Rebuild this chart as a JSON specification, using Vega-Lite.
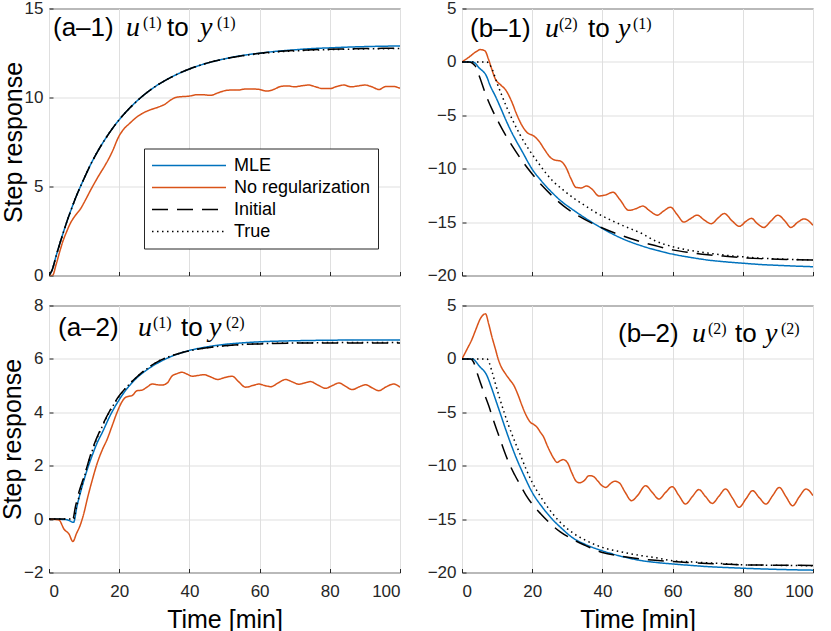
{
  "$schema": "https://vega.github.io/schema/vega-lite/v6.json",
  "padding": {"left": 0, "top": -1.5, "right": 3, "bottom": 0},
  "background": "white",
  "bounds": "flush",
  "columns": 2,
  "spacing": {"row": 30, "column": 62},
  "config": {
    "font": "Liberation Sans",
    "view": {"stroke": "#262626", "strokeWidth": 1},
    "axis": {
      "domain": false,
      "grid": true,
      "gridColor": "#dfdfdf",
      "ticks": true,
      "tickSize": -4,
      "tickColor": "#262626",
      "labelFont": "Liberation Sans",
      "labelFontSize": 17,
      "labelColor": "#262626",
      "titleFont": "Liberation Sans",
      "titleFontSize": 25,
      "titleFontWeight": "normal",
      "titleColor": "#000000"
    },
    "axisX": {"labelPadding": 15, "titlePadding": 7.5},
    "axisY": {"labelPadding": 10, "titlePadding": -2},
    "text": {"align": "left", "baseline": "alphabetic", "color": "#000000"}
  },
  "resolve": {
    "scale": {"color": "independent", "strokeDash": "independent", "x": "independent", "y": "independent"},
    "legend": {"color": "independent", "strokeDash": "independent"}
  },
  "datasets": {
    "a1": [
      {"s":"MLE","t":0,"v":0},{"s":"MLE","t":1,"v":0.37},{"s":"MLE","t":2,"v":1.08},{"s":"MLE","t":3,"v":1.74},{"s":"MLE","t":4,"v":2.37},{"s":"MLE","t":5,"v":2.97},{"s":"MLE","t":6,"v":3.53},{"s":"MLE","t":8,"v":4.56},{"s":"MLE","t":10,"v":5.45},{"s":"MLE","t":12,"v":6.29},{"s":"MLE","t":14,"v":7.02},{"s":"MLE","t":16,"v":7.66},{"s":"MLE","t":18,"v":8.24},{"s":"MLE","t":20,"v":8.75},{"s":"MLE","t":23,"v":9.41},{"s":"MLE","t":26,"v":9.97},{"s":"MLE","t":30,"v":10.58},{"s":"MLE","t":35,"v":11.16},{"s":"MLE","t":40,"v":11.6},{"s":"MLE","t":45,"v":11.93},{"s":"MLE","t":50,"v":12.17},{"s":"MLE","t":55,"v":12.36},{"s":"MLE","t":60,"v":12.49},{"s":"MLE","t":65,"v":12.6},{"s":"MLE","t":70,"v":12.68},{"s":"MLE","t":75,"v":12.75},{"s":"MLE","t":80,"v":12.79},{"s":"MLE","t":85,"v":12.83},{"s":"MLE","t":90,"v":12.86},{"s":"MLE","t":95,"v":12.88},{"s":"MLE","t":100,"v":12.9},
      {"s":"No regularization","t":0,"v":0},{"s":"No regularization","t":1,"v":0},{"s":"No regularization","t":2,"v":0.6},{"s":"No regularization","t":3,"v":1.3},{"s":"No regularization","t":4,"v":1.95},{"s":"No regularization","t":5,"v":2.45},{"s":"No regularization","t":6,"v":2.9},{"s":"No regularization","t":8,"v":3.5},{"s":"No regularization","t":9,"v":3.75},{"s":"No regularization","t":10,"v":4.1},{"s":"No regularization","t":12,"v":4.85},{"s":"No regularization","t":14,"v":5.55},{"s":"No regularization","t":16,"v":6.2},{"s":"No regularization","t":17,"v":6.55},{"s":"No regularization","t":18,"v":6.95},{"s":"No regularization","t":20,"v":7.85},{"s":"No regularization","t":21,"v":8.15},{"s":"No regularization","t":23,"v":8.55},{"s":"No regularization","t":25,"v":8.9},{"s":"No regularization","t":27,"v":9.15},{"s":"No regularization","t":29,"v":9.32},{"s":"No regularization","t":31,"v":9.45},{"s":"No regularization","t":33,"v":9.62},{"s":"No regularization","t":35,"v":9.9},{"s":"No regularization","t":36,"v":10.0},{"s":"No regularization","t":38,"v":10.05},{"s":"No regularization","t":40,"v":10.08},{"s":"No regularization","t":42,"v":10.15},{"s":"No regularization","t":44,"v":10.15},{"s":"No regularization","t":46,"v":10.12},{"s":"No regularization","t":48,"v":10.25},{"s":"No regularization","t":50,"v":10.38},{"s":"No regularization","t":52,"v":10.42},{"s":"No regularization","t":54,"v":10.42},{"s":"No regularization","t":56,"v":10.48},{"s":"No regularization","t":58,"v":10.48},{"s":"No regularization","t":60,"v":10.45},{"s":"No regularization","t":62,"v":10.36},{"s":"No regularization","t":64,"v":10.45},{"s":"No regularization","t":66,"v":10.62},{"s":"No regularization","t":68,"v":10.65},{"s":"No regularization","t":70,"v":10.6},{"s":"No regularization","t":72,"v":10.66},{"s":"No regularization","t":74,"v":10.7},{"s":"No regularization","t":76,"v":10.6},{"s":"No regularization","t":78,"v":10.5},{"s":"No regularization","t":80,"v":10.5},{"s":"No regularization","t":82,"v":10.62},{"s":"No regularization","t":84,"v":10.7},{"s":"No regularization","t":86,"v":10.6},{"s":"No regularization","t":88,"v":10.65},{"s":"No regularization","t":90,"v":10.7},{"s":"No regularization","t":92,"v":10.6},{"s":"No regularization","t":94,"v":10.45},{"s":"No regularization","t":96,"v":10.62},{"s":"No regularization","t":98,"v":10.62},{"s":"No regularization","t":100,"v":10.52},
      {"s":"Initial","t":0,"v":0},{"s":"Initial","t":1,"v":0.37},{"s":"Initial","t":2,"v":1.08},{"s":"Initial","t":3,"v":1.74},{"s":"Initial","t":4,"v":2.37},{"s":"Initial","t":5,"v":2.97},{"s":"Initial","t":6,"v":3.53},{"s":"Initial","t":8,"v":4.56},{"s":"Initial","t":10,"v":5.45},{"s":"Initial","t":12,"v":6.29},{"s":"Initial","t":14,"v":7.02},{"s":"Initial","t":16,"v":7.66},{"s":"Initial","t":18,"v":8.24},{"s":"Initial","t":20,"v":8.75},{"s":"Initial","t":23,"v":9.41},{"s":"Initial","t":26,"v":9.97},{"s":"Initial","t":30,"v":10.58},{"s":"Initial","t":35,"v":11.16},{"s":"Initial","t":40,"v":11.6},{"s":"Initial","t":45,"v":11.93},{"s":"Initial","t":50,"v":12.17},{"s":"Initial","t":55,"v":12.35},{"s":"Initial","t":60,"v":12.48},{"s":"Initial","t":65,"v":12.58},{"s":"Initial","t":70,"v":12.64},{"s":"Initial","t":75,"v":12.68},{"s":"Initial","t":80,"v":12.71},{"s":"Initial","t":85,"v":12.73},{"s":"Initial","t":90,"v":12.75},{"s":"Initial","t":95,"v":12.76},{"s":"Initial","t":100,"v":12.77},
      {"s":"True","t":0,"v":0},{"s":"True","t":1,"v":0.37},{"s":"True","t":2,"v":1.08},{"s":"True","t":3,"v":1.74},{"s":"True","t":4,"v":2.37},{"s":"True","t":5,"v":2.97},{"s":"True","t":6,"v":3.53},{"s":"True","t":8,"v":4.56},{"s":"True","t":10,"v":5.45},{"s":"True","t":12,"v":6.29},{"s":"True","t":14,"v":7.02},{"s":"True","t":16,"v":7.66},{"s":"True","t":18,"v":8.24},{"s":"True","t":20,"v":8.75},{"s":"True","t":23,"v":9.41},{"s":"True","t":26,"v":9.97},{"s":"True","t":30,"v":10.58},{"s":"True","t":35,"v":11.16},{"s":"True","t":40,"v":11.6},{"s":"True","t":45,"v":11.93},{"s":"True","t":50,"v":12.16},{"s":"True","t":55,"v":12.34},{"s":"True","t":60,"v":12.46},{"s":"True","t":65,"v":12.56},{"s":"True","t":70,"v":12.62},{"s":"True","t":75,"v":12.66},{"s":"True","t":80,"v":12.69},{"s":"True","t":85,"v":12.71},{"s":"True","t":90,"v":12.73},{"s":"True","t":95,"v":12.74},{"s":"True","t":100,"v":12.75}
    ],
    "b1": [
      {"s":"MLE","t":0,"v":0},{"s":"MLE","t":3,"v":0},{"s":"MLE","t":5,"v":-0.6},{"s":"MLE","t":7,"v":-1.35},{"s":"MLE","t":8,"v":-2.2},{"s":"MLE","t":9.5,"v":-3.2},{"s":"MLE","t":11,"v":-4.3},{"s":"MLE","t":12.4,"v":-5.37},{"s":"MLE","t":14,"v":-6.5},{"s":"MLE","t":15.2,"v":-7.25},{"s":"MLE","t":17,"v":-8.3},{"s":"MLE","t":20,"v":-10.05},{"s":"MLE","t":22.5,"v":-11.1},{"s":"MLE","t":25.7,"v":-12.25},{"s":"MLE","t":28.5,"v":-13.1},{"s":"MLE","t":31.4,"v":-13.8},{"s":"MLE","t":35,"v":-14.6},{"s":"MLE","t":40,"v":-15.6},{"s":"MLE","t":45,"v":-16.45},{"s":"MLE","t":51.4,"v":-17.25},{"s":"MLE","t":55,"v":-17.6},{"s":"MLE","t":60,"v":-18.0},{"s":"MLE","t":65,"v":-18.3},{"s":"MLE","t":70,"v":-18.55},{"s":"MLE","t":75,"v":-18.72},{"s":"MLE","t":80,"v":-18.85},{"s":"MLE","t":85,"v":-18.97},{"s":"MLE","t":90,"v":-19.05},{"s":"MLE","t":95,"v":-19.12},{"s":"MLE","t":100,"v":-19.18},
      {"s":"No regularization","t":0,"v":0},{"s":"No regularization","t":2,"v":0.45},{"s":"No regularization","t":4,"v":0.95},{"s":"No regularization","t":5.2,"v":1.15},{"s":"No regularization","t":6.5,"v":1.05},{"s":"No regularization","t":7.5,"v":0.3},{"s":"No regularization","t":8.2,"v":-0.4},{"s":"No regularization","t":9.5,"v":-1.6},{"s":"No regularization","t":11,"v":-2.15},{"s":"No regularization","t":12.5,"v":-2.65},{"s":"No regularization","t":14,"v":-3.6},{"s":"No regularization","t":15.7,"v":-5.0},{"s":"No regularization","t":17,"v":-5.9},{"s":"No regularization","t":18.5,"v":-6.6},{"s":"No regularization","t":20.5,"v":-6.95},{"s":"No regularization","t":22,"v":-7.45},{"s":"No regularization","t":23.5,"v":-8.2},{"s":"No regularization","t":25.2,"v":-8.95},{"s":"No regularization","t":26.5,"v":-9.2},{"s":"No regularization","t":28,"v":-9.28},{"s":"No regularization","t":29.5,"v":-9.8},{"s":"No regularization","t":31,"v":-10.9},{"s":"No regularization","t":32.5,"v":-11.75},{"s":"No regularization","t":34,"v":-11.8},{"s":"No regularization","t":35.5,"v":-11.62},{"s":"No regularization","t":37,"v":-11.9},{"s":"No regularization","t":39,"v":-12.55},{"s":"No regularization","t":41,"v":-12.45},{"s":"No regularization","t":43,"v":-12.2},{"s":"No regularization","t":45,"v":-12.9},{"s":"No regularization","t":47.5,"v":-13.9},{"s":"No regularization","t":49.5,"v":-13.75},{"s":"No regularization","t":51.5,"v":-13.5},{"s":"No regularization","t":53.5,"v":-13.95},{"s":"No regularization","t":55.6,"v":-14.35},{"s":"No regularization","t":57.5,"v":-13.95},{"s":"No regularization","t":59.4,"v":-13.6},{"s":"No regularization","t":61.3,"v":-14.3},{"s":"No regularization","t":63.2,"v":-15.0},{"s":"No regularization","t":65,"v":-14.7},{"s":"No regularization","t":67,"v":-14.35},{"s":"No regularization","t":69,"v":-14.8},{"s":"No regularization","t":71,"v":-15.15},{"s":"No regularization","t":73,"v":-14.6},{"s":"No regularization","t":74.7,"v":-14.2},{"s":"No regularization","t":77,"v":-14.9},{"s":"No regularization","t":79,"v":-15.4},{"s":"No regularization","t":81,"v":-14.9},{"s":"No regularization","t":82.5,"v":-14.65},{"s":"No regularization","t":84,"v":-15.1},{"s":"No regularization","t":86,"v":-15.5},{"s":"No regularization","t":88,"v":-14.9},{"s":"No regularization","t":90,"v":-14.35},{"s":"No regularization","t":92,"v":-14.9},{"s":"No regularization","t":93.7,"v":-15.5},{"s":"No regularization","t":95.7,"v":-15.0},{"s":"No regularization","t":97.5,"v":-14.7},{"s":"No regularization","t":100,"v":-15.3},
      {"s":"Initial","t":0,"v":0},{"s":"Initial","t":2,"v":0},{"s":"Initial","t":3.8,"v":-0.4},{"s":"Initial","t":5,"v":-1.4},{"s":"Initial","t":6.7,"v":-3.0},{"s":"Initial","t":8.5,"v":-4.4},{"s":"Initial","t":10.5,"v":-5.7},{"s":"Initial","t":12.5,"v":-6.9},{"s":"Initial","t":14.3,"v":-7.87},{"s":"Initial","t":17,"v":-9.2},{"s":"Initial","t":20,"v":-10.5},{"s":"Initial","t":23,"v":-11.65},{"s":"Initial","t":25.7,"v":-12.55},{"s":"Initial","t":29,"v":-13.5},{"s":"Initial","t":33.3,"v":-14.45},{"s":"Initial","t":37,"v":-15.1},{"s":"Initial","t":40,"v":-15.55},{"s":"Initial","t":45,"v":-16.2},{"s":"Initial","t":50,"v":-16.75},{"s":"Initial","t":55,"v":-17.2},{"s":"Initial","t":60,"v":-17.6},{"s":"Initial","t":65,"v":-17.85},{"s":"Initial","t":70,"v":-18.05},{"s":"Initial","t":75,"v":-18.2},{"s":"Initial","t":80,"v":-18.33},{"s":"Initial","t":85,"v":-18.42},{"s":"Initial","t":90,"v":-18.48},{"s":"Initial","t":95,"v":-18.52},{"s":"Initial","t":100,"v":-18.55},
      {"s":"True","t":0,"v":0},{"s":"True","t":7,"v":0},{"s":"True","t":8.6,"v":-0.69},{"s":"True","t":10,"v":-2.0},{"s":"True","t":11.4,"v":-3.18},{"s":"True","t":12.8,"v":-4.3},{"s":"True","t":14.3,"v":-5.37},{"s":"True","t":16.5,"v":-6.8},{"s":"True","t":19,"v":-8.18},{"s":"True","t":21.5,"v":-9.35},{"s":"True","t":23.8,"v":-10.37},{"s":"True","t":26,"v":-11.2},{"s":"True","t":28.6,"v":-11.93},{"s":"True","t":32,"v":-12.8},{"s":"True","t":35,"v":-13.45},{"s":"True","t":38.1,"v":-14.1},{"s":"True","t":42,"v":-14.75},{"s":"True","t":46,"v":-15.35},{"s":"True","t":51.4,"v":-16.1},{"s":"True","t":55,"v":-16.75},{"s":"True","t":60,"v":-17.3},{"s":"True","t":65,"v":-17.65},{"s":"True","t":70,"v":-17.9},{"s":"True","t":75,"v":-18.1},{"s":"True","t":80,"v":-18.25},{"s":"True","t":85,"v":-18.37},{"s":"True","t":90,"v":-18.45},{"s":"True","t":95,"v":-18.5},{"s":"True","t":100,"v":-18.55}
    ],
    "a2": [
      {"s":"MLE","t":0,"v":0},{"s":"MLE","t":5,"v":-0.02},{"s":"MLE","t":7,"v":-0.12},{"s":"MLE","t":8,"v":0.5},{"s":"MLE","t":9.5,"v":1.25},{"s":"MLE","t":11,"v":1.9},{"s":"MLE","t":12.3,"v":2.38},{"s":"MLE","t":13.7,"v":2.85},{"s":"MLE","t":15.2,"v":3.25},{"s":"MLE","t":17.5,"v":3.9},{"s":"MLE","t":19.9,"v":4.45},{"s":"MLE","t":22,"v":4.85},{"s":"MLE","t":24.7,"v":5.25},{"s":"MLE","t":28,"v":5.6},{"s":"MLE","t":31.3,"v":5.87},{"s":"MLE","t":35,"v":6.1},{"s":"MLE","t":39.8,"v":6.31},{"s":"MLE","t":45,"v":6.45},{"s":"MLE","t":51.2,"v":6.56},{"s":"MLE","t":55,"v":6.6},{"s":"MLE","t":60,"v":6.64},{"s":"MLE","t":70,"v":6.68},{"s":"MLE","t":80,"v":6.7},{"s":"MLE","t":90,"v":6.71},{"s":"MLE","t":100,"v":6.71},
      {"s":"No regularization","t":0,"v":0},{"s":"No regularization","t":2.8,"v":-0.03},{"s":"No regularization","t":4.3,"v":-0.38},{"s":"No regularization","t":5.7,"v":-0.56},{"s":"No regularization","t":6.8,"v":-0.84},{"s":"No regularization","t":7.8,"v":-0.55},{"s":"No regularization","t":9,"v":-0.19},{"s":"No regularization","t":10,"v":0.25},{"s":"No regularization","t":10.9,"v":0.75},{"s":"No regularization","t":12.3,"v":1.45},{"s":"No regularization","t":13.8,"v":2.12},{"s":"No regularization","t":15.2,"v":2.6},{"s":"No regularization","t":16.6,"v":3.0},{"s":"No regularization","t":18,"v":3.5},{"s":"No regularization","t":19.4,"v":4.0},{"s":"No regularization","t":20.6,"v":4.35},{"s":"No regularization","t":21.8,"v":4.56},{"s":"No regularization","t":22.8,"v":4.6},{"s":"No regularization","t":23.7,"v":4.63},{"s":"No regularization","t":25.1,"v":4.81},{"s":"No regularization","t":26.5,"v":4.83},{"s":"No regularization","t":28,"v":4.95},{"s":"No regularization","t":29.4,"v":5.06},{"s":"No regularization","t":31,"v":5.03},{"s":"No regularization","t":32.2,"v":5.02},{"s":"No regularization","t":33.7,"v":5.1},{"s":"No regularization","t":35,"v":5.35},{"s":"No regularization","t":36.5,"v":5.45},{"s":"No regularization","t":37.9,"v":5.5},{"s":"No regularization","t":39.5,"v":5.42},{"s":"No regularization","t":40.8,"v":5.35},{"s":"No regularization","t":42.5,"v":5.38},{"s":"No regularization","t":44.1,"v":5.41},{"s":"No regularization","t":46,"v":5.33},{"s":"No regularization","t":48,"v":5.23},{"s":"No regularization","t":50,"v":5.3},{"s":"No regularization","t":52.2,"v":5.35},{"s":"No regularization","t":54,"v":5.15},{"s":"No regularization","t":56,"v":4.94},{"s":"No regularization","t":58,"v":5.0},{"s":"No regularization","t":59.8,"v":5.06},{"s":"No regularization","t":61.5,"v":5.0},{"s":"No regularization","t":63.2,"v":4.96},{"s":"No regularization","t":65.3,"v":5.1},{"s":"No regularization","t":67.4,"v":5.23},{"s":"No regularization","t":69.3,"v":5.14},{"s":"No regularization","t":71.2,"v":5.05},{"s":"No regularization","t":72.8,"v":5.1},{"s":"No regularization","t":74.5,"v":5.15},{"s":"No regularization","t":76.6,"v":5.02},{"s":"No regularization","t":78.8,"v":4.9},{"s":"No regularization","t":80.7,"v":5.0},{"s":"No regularization","t":82.6,"v":5.1},{"s":"No regularization","t":84.5,"v":4.97},{"s":"No regularization","t":86.4,"v":4.85},{"s":"No regularization","t":88.3,"v":4.95},{"s":"No regularization","t":90.2,"v":5.03},{"s":"No regularization","t":92,"v":4.92},{"s":"No regularization","t":94,"v":4.81},{"s":"No regularization","t":96,"v":4.95},{"s":"No regularization","t":98.2,"v":5.06},{"s":"No regularization","t":100,"v":4.94},
      {"s":"Initial","t":0,"v":0},{"s":"Initial","t":6.8,"v":0},{"s":"Initial","t":7.5,"v":0.45},{"s":"Initial","t":8.5,"v":1.0},{"s":"Initial","t":10,"v":1.6},{"s":"Initial","t":12.3,"v":2.6},{"s":"Initial","t":15,"v":3.45},{"s":"Initial","t":17.5,"v":4.1},{"s":"Initial","t":20,"v":4.62},{"s":"Initial","t":22.5,"v":5.0},{"s":"Initial","t":25,"v":5.32},{"s":"Initial","t":28,"v":5.65},{"s":"Initial","t":31,"v":5.9},{"s":"Initial","t":35,"v":6.12},{"s":"Initial","t":40,"v":6.3},{"s":"Initial","t":45,"v":6.42},{"s":"Initial","t":51,"v":6.5},{"s":"Initial","t":55,"v":6.54},{"s":"Initial","t":60,"v":6.56},{"s":"Initial","t":70,"v":6.59},{"s":"Initial","t":80,"v":6.6},{"s":"Initial","t":90,"v":6.6},{"s":"Initial","t":100,"v":6.6},
      {"s":"True","t":0,"v":0},{"s":"True","t":7,"v":0},{"s":"True","t":8,"v":0.55},{"s":"True","t":10,"v":1.55},{"s":"True","t":12.3,"v":2.55},{"s":"True","t":15,"v":3.42},{"s":"True","t":17.5,"v":4.08},{"s":"True","t":20,"v":4.6},{"s":"True","t":22.5,"v":5.0},{"s":"True","t":25,"v":5.32},{"s":"True","t":28,"v":5.64},{"s":"True","t":31,"v":5.9},{"s":"True","t":35,"v":6.12},{"s":"True","t":40,"v":6.3},{"s":"True","t":45,"v":6.42},{"s":"True","t":51,"v":6.5},{"s":"True","t":60,"v":6.57},{"s":"True","t":70,"v":6.6},{"s":"True","t":80,"v":6.61},{"s":"True","t":90,"v":6.61},{"s":"True","t":100,"v":6.61}
    ],
    "b2": [
      {"s":"MLE","t":0,"v":0},{"s":"MLE","t":2.9,"v":0},{"s":"MLE","t":5,"v":-0.7},{"s":"MLE","t":7.1,"v":-1.56},{"s":"MLE","t":8.3,"v":-2.6},{"s":"MLE","t":9.5,"v":-3.75},{"s":"MLE","t":11,"v":-5.2},{"s":"MLE","t":12.4,"v":-6.56},{"s":"MLE","t":13.8,"v":-7.85},{"s":"MLE","t":15.2,"v":-9.06},{"s":"MLE","t":17.5,"v":-10.8},{"s":"MLE","t":20,"v":-12.5},{"s":"MLE","t":22.8,"v":-13.85},{"s":"MLE","t":25.7,"v":-15.0},{"s":"MLE","t":28.5,"v":-15.9},{"s":"MLE","t":31.4,"v":-16.72},{"s":"MLE","t":35,"v":-17.35},{"s":"MLE","t":40,"v":-17.97},{"s":"MLE","t":45,"v":-18.45},{"s":"MLE","t":51.4,"v":-18.9},{"s":"MLE","t":55,"v":-19.05},{"s":"MLE","t":60,"v":-19.2},{"s":"MLE","t":65,"v":-19.33},{"s":"MLE","t":70,"v":-19.45},{"s":"MLE","t":75,"v":-19.53},{"s":"MLE","t":80,"v":-19.6},{"s":"MLE","t":85,"v":-19.66},{"s":"MLE","t":90,"v":-19.71},{"s":"MLE","t":95,"v":-19.75},{"s":"MLE","t":100,"v":-19.78},
      {"s":"No regularization","t":0,"v":0},{"s":"No regularization","t":1.5,"v":0.95},{"s":"No regularization","t":2.9,"v":1.88},{"s":"No regularization","t":4,"v":2.8},{"s":"No regularization","t":5.2,"v":3.75},{"s":"No regularization","t":6.7,"v":4.22},{"s":"No regularization","t":7.6,"v":3.28},{"s":"No regularization","t":8.5,"v":2.1},{"s":"No regularization","t":9.5,"v":0.94},{"s":"No regularization","t":10.3,"v":0.0},{"s":"No regularization","t":11,"v":-0.62},{"s":"No regularization","t":12.4,"v":-1.4},{"s":"No regularization","t":13.6,"v":-1.95},{"s":"No regularization","t":14.8,"v":-2.5},{"s":"No regularization","t":16,"v":-3.4},{"s":"No regularization","t":17.1,"v":-4.37},{"s":"No regularization","t":18.3,"v":-5.3},{"s":"No regularization","t":19.5,"v":-5.94},{"s":"No regularization","t":20.5,"v":-6.15},{"s":"No regularization","t":21.4,"v":-6.4},{"s":"No regularization","t":22.3,"v":-6.85},{"s":"No regularization","t":23.3,"v":-7.34},{"s":"No regularization","t":24.2,"v":-8.05},{"s":"No regularization","t":25.2,"v":-8.75},{"s":"No regularization","t":26.2,"v":-9.35},{"s":"No regularization","t":27.1,"v":-9.69},{"s":"No regularization","t":28,"v":-9.52},{"s":"No regularization","t":28.8,"v":-9.43},{"s":"No regularization","t":30,"v":-9.69},{"s":"No regularization","t":31.2,"v":-10.6},{"s":"No regularization","t":32.4,"v":-11.4},{"s":"No regularization","t":33.4,"v":-11.6},{"s":"No regularization","t":34.8,"v":-11.4},{"s":"No regularization","t":36.2,"v":-10.93},{"s":"No regularization","t":37.4,"v":-11.0},{"s":"No regularization","t":38.6,"v":-11.4},{"s":"No regularization","t":40,"v":-11.9},{"s":"No regularization","t":41,"v":-12.03},{"s":"No regularization","t":42.2,"v":-11.7},{"s":"No regularization","t":43.5,"v":-11.45},{"s":"No regularization","t":44.8,"v":-11.6},{"s":"No regularization","t":46.5,"v":-12.5},{"s":"No regularization","t":48.3,"v":-13.28},{"s":"No regularization","t":50,"v":-12.8},{"s":"No regularization","t":52.3,"v":-11.87},{"s":"No regularization","t":54.2,"v":-12.5},{"s":"No regularization","t":56.1,"v":-13.12},{"s":"No regularization","t":58,"v":-12.5},{"s":"No regularization","t":59.9,"v":-11.96},{"s":"No regularization","t":61.8,"v":-12.8},{"s":"No regularization","t":63.7,"v":-13.59},{"s":"No regularization","t":65.6,"v":-12.9},{"s":"No regularization","t":67.5,"v":-12.24},{"s":"No regularization","t":69.4,"v":-12.9},{"s":"No regularization","t":71.3,"v":-13.53},{"s":"No regularization","t":73.2,"v":-12.85},{"s":"No regularization","t":75.1,"v":-12.18},{"s":"No regularization","t":77,"v":-13.0},{"s":"No regularization","t":78.95,"v":-13.9},{"s":"No regularization","t":80.9,"v":-13.1},{"s":"No regularization","t":82.8,"v":-12.34},{"s":"No regularization","t":84.7,"v":-13.0},{"s":"No regularization","t":86.6,"v":-13.59},{"s":"No regularization","t":88.5,"v":-12.8},{"s":"No regularization","t":90.4,"v":-12.03},{"s":"No regularization","t":92.3,"v":-12.9},{"s":"No regularization","t":94.2,"v":-13.75},{"s":"No regularization","t":96.1,"v":-12.9},{"s":"No regularization","t":98,"v":-12.18},{"s":"No regularization","t":100,"v":-12.8},
      {"s":"Initial","t":0,"v":0},{"s":"Initial","t":2.5,"v":0},{"s":"Initial","t":3.3,"v":-0.3},{"s":"Initial","t":4.2,"v":-1.2},{"s":"Initial","t":5.2,"v":-2.19},{"s":"Initial","t":6.4,"v":-3.3},{"s":"Initial","t":7.6,"v":-4.37},{"s":"Initial","t":9,"v":-5.8},{"s":"Initial","t":10.5,"v":-7.19},{"s":"Initial","t":12,"v":-8.6},{"s":"Initial","t":13.3,"v":-9.69},{"s":"Initial","t":15,"v":-10.85},{"s":"Initial","t":16.7,"v":-11.87},{"s":"Initial","t":18.3,"v":-12.8},{"s":"Initial","t":20,"v":-13.59},{"s":"Initial","t":22.4,"v":-14.5},{"s":"Initial","t":24.8,"v":-15.31},{"s":"Initial","t":28,"v":-16.2},{"s":"Initial","t":31.4,"v":-16.87},{"s":"Initial","t":35,"v":-17.45},{"s":"Initial","t":40,"v":-18.12},{"s":"Initial","t":45,"v":-18.45},{"s":"Initial","t":51.4,"v":-18.75},{"s":"Initial","t":55,"v":-18.85},{"s":"Initial","t":60,"v":-18.97},{"s":"Initial","t":65,"v":-19.08},{"s":"Initial","t":70,"v":-19.15},{"s":"Initial","t":75,"v":-19.22},{"s":"Initial","t":80,"v":-19.28},{"s":"Initial","t":85,"v":-19.3},{"s":"Initial","t":90,"v":-19.32},{"s":"Initial","t":95,"v":-19.33},{"s":"Initial","t":100,"v":-19.34},
      {"s":"True","t":0,"v":0},{"s":"True","t":7.1,"v":0},{"s":"True","t":8.6,"v":-1.25},{"s":"True","t":9.5,"v":-2.3},{"s":"True","t":10.5,"v":-3.43},{"s":"True","t":12,"v":-5.0},{"s":"True","t":13.3,"v":-6.25},{"s":"True","t":15,"v":-7.7},{"s":"True","t":16.7,"v":-9.06},{"s":"True","t":18.3,"v":-10.35},{"s":"True","t":20,"v":-11.56},{"s":"True","t":22.4,"v":-12.9},{"s":"True","t":24.8,"v":-14.06},{"s":"True","t":28,"v":-15.3},{"s":"True","t":31.4,"v":-16.25},{"s":"True","t":35,"v":-16.95},{"s":"True","t":40,"v":-17.65},{"s":"True","t":45,"v":-18.05},{"s":"True","t":51.4,"v":-18.44},{"s":"True","t":55,"v":-18.6},{"s":"True","t":60,"v":-18.9},{"s":"True","t":65,"v":-19.0},{"s":"True","t":70,"v":-19.1},{"s":"True","t":75,"v":-19.18},{"s":"True","t":80,"v":-19.28},{"s":"True","t":85,"v":-19.31},{"s":"True","t":90,"v":-19.33},{"s":"True","t":95,"v":-19.35},{"s":"True","t":100,"v":-19.37}
    ]
  },
  "concat": [
    {
      "width": 351, "height": 267,
      "layer": [
        {
          "data": {"name": "a1"},
          "mark": {"type": "line", "interpolate": "monotone", "strokeWidth": 1.5, "clip": true},
          "encoding": {
            "x": {"field": "t", "type": "quantitative", "scale": {"domain": [0, 100], "nice": false}, "axis": {"values": [0, 20, 40, 60, 80, 100], "labels": false, "title": null}},
            "y": {"field": "v", "type": "quantitative", "scale": {"domain": [0, 15], "nice": false, "zero": false}, "axis": {"values": [0, 5, 10, 15], "title": "Step response"}},
            "color": {"field": "s", "type": "nominal", "sort": null,
              "scale": {"domain": ["MLE", "No regularization", "Initial", "True"], "range": ["#0072BD", "#D95319", "#000000", "#000000"]},
              "legend": {"title": null, "orient": "none", "legendX": 95, "legendY": 140, "symbolType": "stroke", "symbolSize": 5476, "symbolStrokeWidth": 1.5, "clipHeight": 20, "rowPadding": 2, "labelFont": "Liberation Sans", "labelFontSize": 18, "labelColor": "#000000", "labelOffset": 7, "labelLimit": 0, "padding": 7, "fillColor": "#ffffff", "strokeColor": "#262626", "cornerRadius": 0}},
            "strokeDash": {"field": "s", "type": "nominal", "sort": null,
              "scale": {"domain": ["MLE", "No regularization", "Initial", "True"], "range": [[1, 0], [1, 0], [16, 9], [1.5, 3.5]]},
              "legend": {"title": null, "orient": "none", "legendX": 95, "legendY": 140, "symbolType": "stroke", "symbolSize": 5476, "symbolStrokeWidth": 1.5, "clipHeight": 20, "rowPadding": 2, "labelFont": "Liberation Sans", "labelFontSize": 18, "labelColor": "#000000", "labelOffset": 7, "labelLimit": 0, "padding": 7, "fillColor": "#ffffff", "strokeColor": "#262626", "cornerRadius": 0}}
          }
        },
        {
          "data": {"values": [{}]},
          "encoding": {"x": {"datum": 0}, "y": {"datum": 15}},
          "layer": [
            {"mark": {"type": "text", "text": "(a–1)", "font": "Liberation Sans", "fontSize": 26, "dx": 4, "dy": 27.5}},
            {"mark": {"type": "text", "text": "u", "font": "Liberation Serif", "fontStyle": "italic", "fontSize": 28, "dx": 77, "dy": 27.5}},
            {"mark": {"type": "text", "text": "(1)", "font": "Liberation Serif", "fontSize": 16, "dx": 94, "dy": 19.5}},
            {"mark": {"type": "text", "text": "to", "font": "Liberation Sans", "fontSize": 26, "dx": 118, "dy": 27.5}},
            {"mark": {"type": "text", "text": "y", "font": "Liberation Serif", "fontStyle": "italic", "fontSize": 28, "dx": 151, "dy": 27.5}},
            {"mark": {"type": "text", "text": "(1)", "font": "Liberation Serif", "fontSize": 16, "dx": 168, "dy": 19.5}}
          ]
        }
      ]
    },
    {
      "width": 351, "height": 267,
      "layer": [
        {
          "data": {"name": "b1"},
          "mark": {"type": "line", "interpolate": "monotone", "strokeWidth": 1.5, "clip": true},
          "encoding": {
            "x": {"field": "t", "type": "quantitative", "scale": {"domain": [0, 100], "nice": false}, "axis": {"values": [0, 20, 40, 60, 80, 100], "labels": false, "title": null}},
            "y": {"field": "v", "type": "quantitative", "scale": {"domain": [-20, 5], "nice": false, "zero": false}, "axis": {"values": [-20, -15, -10, -5, 0, 5], "title": null}},
            "color": {"field": "s", "type": "nominal", "sort": null, "legend": null,
              "scale": {"domain": ["MLE", "No regularization", "Initial", "True"], "range": ["#0072BD", "#D95319", "#000000", "#000000"]}},
            "strokeDash": {"field": "s", "type": "nominal", "sort": null, "legend": null,
              "scale": {"domain": ["MLE", "No regularization", "Initial", "True"], "range": [[1, 0], [1, 0], [16, 9], [1.5, 3.5]]}}
          }
        },
        {
          "data": {"values": [{}]},
          "encoding": {"x": {"datum": 0}, "y": {"datum": 5}},
          "layer": [
            {"mark": {"type": "text", "text": "(b–1)", "font": "Liberation Sans", "fontSize": 26, "dx": 8, "dy": 28}},
            {"mark": {"type": "text", "text": "u", "font": "Liberation Serif", "fontStyle": "italic", "fontSize": 28, "dx": 83, "dy": 28}},
            {"mark": {"type": "text", "text": "(2)", "font": "Liberation Serif", "fontSize": 16, "dx": 97, "dy": 20}},
            {"mark": {"type": "text", "text": "to", "font": "Liberation Sans", "fontSize": 26, "dx": 126, "dy": 28}},
            {"mark": {"type": "text", "text": "y", "font": "Liberation Serif", "fontStyle": "italic", "fontSize": 28, "dx": 156, "dy": 28}},
            {"mark": {"type": "text", "text": "(1)", "font": "Liberation Serif", "fontSize": 16, "dx": 171, "dy": 20}}
          ]
        }
      ]
    },
    {
      "width": 351, "height": 267,
      "layer": [
        {
          "data": {"name": "a2"},
          "mark": {"type": "line", "interpolate": "monotone", "strokeWidth": 1.5, "clip": true},
          "encoding": {
            "x": {"field": "t", "type": "quantitative", "scale": {"domain": [0, 100], "nice": false}, "axis": {"values": [0, 20, 40, 60, 80, 100], "title": "Time [min]"}},
            "y": {"field": "v", "type": "quantitative", "scale": {"domain": [-2, 8], "nice": false, "zero": false}, "axis": {"values": [-2, 0, 2, 4, 6, 8], "title": "Step response"}},
            "color": {"field": "s", "type": "nominal", "sort": null, "legend": null,
              "scale": {"domain": ["MLE", "No regularization", "Initial", "True"], "range": ["#0072BD", "#D95319", "#000000", "#000000"]}},
            "strokeDash": {"field": "s", "type": "nominal", "sort": null, "legend": null,
              "scale": {"domain": ["MLE", "No regularization", "Initial", "True"], "range": [[1, 0], [1, 0], [16, 9], [1.5, 3.5]]}}
          }
        },
        {
          "data": {"values": [{}]},
          "encoding": {"x": {"datum": 0}, "y": {"datum": 8}},
          "layer": [
            {"mark": {"type": "text", "text": "(a–2)", "font": "Liberation Sans", "fontSize": 26, "dx": 9, "dy": 30}},
            {"mark": {"type": "text", "text": "u", "font": "Liberation Serif", "fontStyle": "italic", "fontSize": 28, "dx": 89, "dy": 30}},
            {"mark": {"type": "text", "text": "(1)", "font": "Liberation Serif", "fontSize": 16, "dx": 104, "dy": 22}},
            {"mark": {"type": "text", "text": "to", "font": "Liberation Sans", "fontSize": 26, "dx": 132, "dy": 30}},
            {"mark": {"type": "text", "text": "y", "font": "Liberation Serif", "fontStyle": "italic", "fontSize": 28, "dx": 160, "dy": 30}},
            {"mark": {"type": "text", "text": "(2)", "font": "Liberation Serif", "fontSize": 16, "dx": 177, "dy": 22}}
          ]
        }
      ]
    },
    {
      "width": 351, "height": 267,
      "layer": [
        {
          "data": {"name": "b2"},
          "mark": {"type": "line", "interpolate": "monotone", "strokeWidth": 1.5, "clip": true},
          "encoding": {
            "x": {"field": "t", "type": "quantitative", "scale": {"domain": [0, 100], "nice": false}, "axis": {"values": [0, 20, 40, 60, 80, 100], "title": "Time [min]"}},
            "y": {"field": "v", "type": "quantitative", "scale": {"domain": [-20, 5], "nice": false, "zero": false}, "axis": {"values": [-20, -15, -10, -5, 0, 5], "title": null}},
            "color": {"field": "s", "type": "nominal", "sort": null, "legend": null,
              "scale": {"domain": ["MLE", "No regularization", "Initial", "True"], "range": ["#0072BD", "#D95319", "#000000", "#000000"]}},
            "strokeDash": {"field": "s", "type": "nominal", "sort": null, "legend": null,
              "scale": {"domain": ["MLE", "No regularization", "Initial", "True"], "range": [[1, 0], [1, 0], [16, 9], [1.5, 3.5]]}}
          }
        },
        {
          "data": {"values": [{}]},
          "encoding": {"x": {"datum": 0}, "y": {"datum": 5}},
          "layer": [
            {"mark": {"type": "text", "text": "(b–2)", "font": "Liberation Sans", "fontSize": 26, "dx": 156, "dy": 36.5}},
            {"mark": {"type": "text", "text": "u", "font": "Liberation Serif", "fontStyle": "italic", "fontSize": 28, "dx": 230, "dy": 36.5}},
            {"mark": {"type": "text", "text": "(2)", "font": "Liberation Serif", "fontSize": 16, "dx": 246, "dy": 28.5}},
            {"mark": {"type": "text", "text": "to", "font": "Liberation Sans", "fontSize": 26, "dx": 273, "dy": 36.5}},
            {"mark": {"type": "text", "text": "y", "font": "Liberation Serif", "fontStyle": "italic", "fontSize": 28, "dx": 303, "dy": 36.5}},
            {"mark": {"type": "text", "text": "(2)", "font": "Liberation Serif", "fontSize": 16, "dx": 319, "dy": 28.5}}
          ]
        }
      ]
    }
  ]
}
